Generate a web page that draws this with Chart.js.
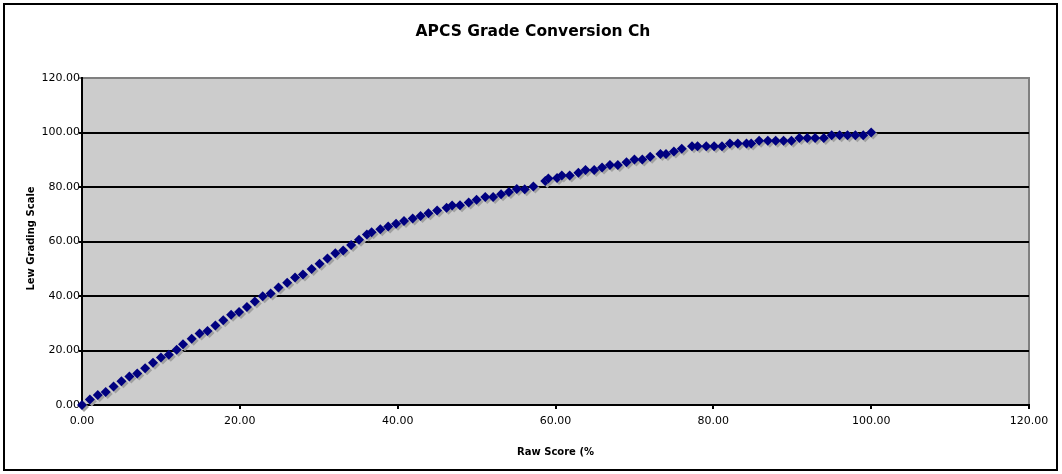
<!DOCTYPE html>
<html>
<head>
<meta charset="utf-8">
<script src="https://cdn.jsdelivr.net/npm/chart.js@4.4.1/dist/chart.umd.min.js"></script>
<style>
  html, body { margin: 0; padding: 0; background: #fff; }
  #wrap { position: absolute; left: 0; top: 0; width: 1062px; height: 474px; }
</style>
</head>
<body>
<div id="wrap"><canvas id="myChart" width="1062" height="474"></canvas></div>
<script>
// Raw score (%)
const rawScore = [
  0, 1, 2, 3, 4, 5, 6, 7, 8, 9, 10, 11, 12,
  12.8, 13.9, 14.9, 15.9, 16.9, 17.9, 18.9, 19.9, 20.9, 21.9, 22.9, 23.9, 24.9,
  26.0, 27.0, 28.0, 29.1, 30.1, 31.1, 32.1, 33.1, 34.1, 35.1,
  36.1, 36.7, 37.8, 38.8, 39.8, 40.8, 41.9, 42.9, 43.9, 45.0,
  46.2, 46.9, 47.9, 49.0, 50.0, 51.1, 52.1, 53.1, 54.1, 55.1,
  56.1, 57.2, 58.7, 59.1, 60.2, 60.8, 61.8, 62.9, 63.8, 64.9,
  65.9, 66.9, 67.9, 69.0, 70.0, 71.0, 72.0, 73.3, 74.0, 75.0,
  76.0, 77.3, 78.0, 79.1, 80.1, 81.1, 82.1, 83.1, 84.2, 84.8,
  85.8, 86.9, 87.9, 88.9, 89.9, 90.9, 91.9, 92.9, 94.0, 95.0,
  96, 97, 98, 99, 100
];
// Lew grading scale
const lewScale = [
  0, 2, 3.7, 4.8, 6.8, 8.7, 10.5, 11.6, 13.5, 15.5, 17.4, 18.4, 20.3,
  22.3, 24.3, 26.2, 27.2, 29.2, 31.1, 33.1, 34.1, 36.0, 38.0, 39.9, 40.9, 43.1,
  44.9, 46.8, 47.9, 49.9, 51.8, 53.8, 55.7, 56.7, 58.7, 60.6,
  62.6, 63.4, 64.5, 65.5, 66.5, 67.5, 68.4, 69.4, 70.4, 71.4,
  72.4, 73.2, 73.3, 74.3, 75.3, 76.3, 76.3, 77.3, 78.2, 79.3,
  79.2, 80.2, 82.2, 83.1, 83.3, 84.2, 84.2, 85.2, 86.2, 86.2,
  87.2, 88.1, 88.1, 89.1, 90.1, 90.1, 91.1, 92.1, 92.1, 93,
  94, 95, 95, 95, 95, 95, 96, 96, 96, 96,
  97, 97, 97, 97, 97, 98, 98, 98, 98, 99,
  99, 99, 99, 99, 100
];

const chartTitle = 'APCS Grade Conversion Ch';
const xTitle = 'Raw Score (%';
const yTitle = 'Lew Grading Scale';
const axisMin = 0, axisMax = 120, axisStep = 20;

const points = rawScore.map((x, i) => ({ x: x, y: lewScale[i] }));

// fondo, marco y area gris
const backgroundPlugin = {
  id: 'excelBackground',
  beforeDraw(chart) {
    const { ctx, chartArea } = chart;
    ctx.save();
    ctx.fillStyle = '#ffffff';
    ctx.fillRect(0, 0, chart.width, chart.height);
    ctx.strokeStyle = '#000000';
    ctx.lineWidth = 2;
    ctx.strokeRect(4, 4, 1053, 466);
    ctx.fillStyle = '#cccccc';
    ctx.fillRect(chartArea.left, chartArea.top, chartArea.right - chartArea.left, chartArea.bottom - chartArea.top);
    ctx.strokeStyle = '#808080';
    ctx.lineWidth = 2;
    ctx.beginPath();
    ctx.moveTo(chartArea.left, chartArea.top);
    ctx.lineTo(chartArea.right, chartArea.top);
    ctx.lineTo(chartArea.right, chartArea.bottom);
    ctx.stroke();
    ctx.restore();
  }
};

// sombra de los marcadores
const shadowPlugin = {
  id: 'markerShadow',
  beforeDatasetsDraw(chart) {
    const ctx = chart.ctx;
    ctx.save();
    ctx.shadowColor = 'rgba(160,160,160,1)';
    ctx.shadowOffsetX = 2;
    ctx.shadowOffsetY = 2;
    ctx.shadowBlur = 0;
  },
  afterDatasetsDraw(chart) {
    chart.ctx.restore();
  }
};

// titulos
const titlesPlugin = {
  id: 'titles',
  afterDraw(chart) {
    const { ctx, chartArea } = chart;
    ctx.save();
    ctx.fillStyle = '#000000';
    ctx.textAlign = 'center';
    ctx.textBaseline = 'middle';
    ctx.font = 'bold 15.5px "DejaVu Sans"';
    ctx.fillText(chartTitle, 533, 32);
    ctx.font = 'bold 10px "DejaVu Sans"';
    ctx.fillText(xTitle, (chartArea.left + chartArea.right) / 2, 452);
    ctx.translate(31, (chartArea.top + chartArea.bottom) / 2 - 3);
    ctx.rotate(-Math.PI / 2);
    ctx.fillText(yTitle, 0, 0);
    ctx.restore();
  }
};

const ctx = document.getElementById('myChart').getContext('2d');
const myChart = new Chart(ctx, {
  type: 'scatter',
  data: {
    datasets: [{
      label: yTitle,
      data: points,
      pointStyle: 'rectRot',
      pointRadius: 5,
      pointBackgroundColor: '#000080',
      pointBorderColor: '#000080',
      pointBorderWidth: 0,
      showLine: false,
      clip: false
    }]
  },
  options: {
    responsive: false,
    animation: false,
    devicePixelRatio: 1,
    layout: { padding: { left: 0, right: 33, top: 78, bottom: 0 } },
    plugins: {
      legend: { display: false },
      title: { display: false },
      tooltip: { enabled: false }
    },
    scales: {
      x: {
        type: 'linear',
        min: axisMin,
        max: axisMax,
        afterFit(scale) { scale.height = 69; },
        ticks: {
          stepSize: axisStep,
          padding: 6,
          color: '#000',
          font: { family: 'DejaVu Sans', size: 11 },
          maxRotation: 0,
          callback: (v) => Number(v).toFixed(2)
        },
        grid: {
          drawOnChartArea: false,
          drawTicks: true,
          tickLength: 4,
          color: '#000',
          lineWidth: 2
        },
        border: { color: '#000', width: 2 }
      },
      y: {
        type: 'linear',
        min: axisMin,
        max: axisMax,
        afterFit(scale) { scale.width = 82; },
        ticks: {
          stepSize: axisStep,
          padding: -1,
          color: '#000',
          font: { family: 'DejaVu Sans', size: 11 },
          callback: (v) => Number(v).toFixed(2)
        },
        grid: {
          drawTicks: true,
          tickLength: 3,
          color: (c) => (c.tick && c.tick.value === axisMax ? '#808080' : '#000'),
          lineWidth: 2
        },
        border: { color: '#000', width: 2 }
      }
    }
  },
  plugins: [backgroundPlugin, shadowPlugin, titlesPlugin]
});
</script>
</body>
</html>
